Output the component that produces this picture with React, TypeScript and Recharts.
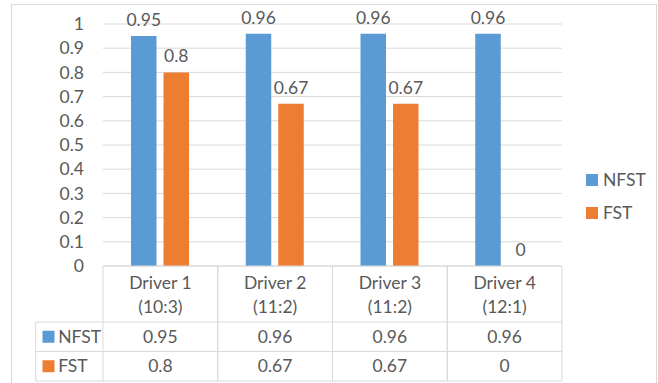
import React from 'react';
import { BarChart, Bar, XAxis, YAxis, CartesianGrid, Legend, LabelList } from 'recharts';

// Categories and their ratio sub-labels
const drivers = ['Driver 1', 'Driver 2', 'Driver 3', 'Driver 4'];
const ratios = ['(10:3)', '(11:2)', '(11:2)', '(12:1)'];

// Series values
const nfstValues = [0.95, 0.96, 0.96, 0.96];
const fstValues = [0.8, 0.67, 0.67, 0];

// Value axis ticks
const yTicks = [0, 0.1, 0.2, 0.3, 0.4, 0.5, 0.6, 0.7, 0.8, 0.9, 1];

const SERIES = [
  { key: 'NFST', color: '#5B9BD5', values: nfstValues },
  { key: 'FST', color: '#ED7D31', values: fstValues },
];

const data = drivers.map((name, i) => ({
  name,
  ratio: ratios[i],
  NFST: nfstValues[i],
  FST: fstValues[i],
}));

const FONT = 'Lato, "Open Sans", sans-serif';
const FONT_SIZE = 17.5;
const TEXT = '#595959';
const LINE = '#D9D9D9';

// Data table geometry under the category axis
const HEADER_H = 56;
const ROW_H = 29.5;
const KEY_W = 67.3;

const txt = {
  fontFamily: FONT,
  fontSize: FONT_SIZE,
  fill: TEXT,
} as const;

function TableTick(props: any) {
  const { x, y, payload, index } = props;
  const half = payload && typeof payload.offset === 'number' && payload.offset > 0 ? payload.offset : 57.375;
  const left = x - half;
  const right = x + half;
  const rowTop = y + HEADER_H;
  const bottom = rowTop + ROW_H * SERIES.length;
  const i = typeof index === 'number' ? index : payload.index;

  return (
    <g>
      <line x1={left} x2={left} y1={y} y2={bottom} stroke={LINE} />
      <line x1={right} x2={right} y1={y} y2={bottom} stroke={LINE} />
      {SERIES.map((_, j) => (
        <line key={`h${j}`} x1={left} x2={right} y1={rowTop + ROW_H * j} y2={rowTop + ROW_H * j} stroke={LINE} />
      ))}
      <line x1={left} x2={right} y1={bottom} y2={bottom} stroke={LINE} />
      <text {...txt} x={x} y={y + 17.3} dy="0.35em" textAnchor="middle">{drivers[i]}</text>
      <text {...txt} x={x} y={y + 41.3} dy="0.35em" textAnchor="middle">{ratios[i]}</text>
      {SERIES.map((s, j) => (
        <text key={s.key} {...txt} x={x} y={rowTop + ROW_H * j + ROW_H / 2} dy="0.35em" textAnchor="middle">
          {String(s.values[i])}
        </text>
      ))}
      {i === 0 && (
        <g>
          <line x1={left - KEY_W} x2={left - KEY_W} y1={rowTop} y2={bottom} stroke={LINE} />
          {SERIES.map((s, j) => (
            <g key={s.key}>
              <line x1={left - KEY_W} x2={left} y1={rowTop + ROW_H * j} y2={rowTop + ROW_H * j} stroke={LINE} />
              <rect x={left - KEY_W + 6.8} y={rowTop + ROW_H * j + ROW_H / 2 - 6} width={12} height={12} fill={s.color} />
              <text {...txt} x={left - KEY_W + 22.5} y={rowTop + ROW_H * j + ROW_H / 2} dy="0.35em" textAnchor="start">
                {s.key}
              </text>
            </g>
          ))}
          <line x1={left - KEY_W} x2={left} y1={bottom} y2={bottom} stroke={LINE} />
        </g>
      )}
    </g>
  );
}

function LegendContent() {
  return (
    <div>
      {SERIES.map((s) => (
        <div key={s.key} style={{ height: 33, display: 'flex', alignItems: 'center' }}>
          <span style={{ width: 12, height: 12, background: s.color, display: 'inline-block', marginRight: 5 }} />
          <span style={{ fontFamily: FONT, fontSize: FONT_SIZE, color: TEXT, lineHeight: '20px' }}>{s.key}</span>
        </div>
      ))}
    </div>
  );
}

export default function App() {
  return (
    <div style={{ position: 'absolute', left: 0, top: 0, width: 658, height: 383, overflow: 'hidden', background: '#fff' }}>
      <div
        style={{
          position: 'absolute',
          left: 11,
          top: 4,
          width: 646,
          height: 420,
          border: `1px solid ${LINE}`,
          boxSizing: 'border-box',
          pointerEvents: 'none',
        }}
      />
      <BarChart
        width={658}
        height={383}
        data={data}
        margin={{ top: 24, right: 96, bottom: 0, left: 13 }}
        barGap={7}
        style={{ position: 'absolute', left: 0, top: 0 }}
      >
        <CartesianGrid vertical={false} stroke={LINE} />
        <XAxis
          dataKey="name"
          height={117}
          axisLine={{ stroke: LINE }}
          tickLine={false}
          tickSize={0}
          tickMargin={0}
          interval={0}
          tick={<TableTick />}
        />
        <YAxis
          width={90}
          domain={[0, 1]}
          ticks={yTicks}
          interval={0}
          axisLine={false}
          tickLine={false}
          tickSize={0}
          tickMargin={19}
          tickFormatter={(v: number) => String(v)}
          tick={{ ...txt }}
        />
        <Legend
          layout="horizontal"
          verticalAlign="middle"
          align="center"
          content={<LegendContent />}
          wrapperStyle={{ position: 'absolute', left: 586, top: 163.5, width: 70, height: 66 }}
        />
        {SERIES.map((s) => (
          <Bar
            key={s.key}
            dataKey={s.key}
            name={s.key}
            fill={s.color}
            barSize={25.5}
            minPointSize={0.01}
            isAnimationActive={false}
          >
            <LabelList dataKey={s.key} position="top" offset={10} {...txt} />
          </Bar>
        ))}
      </BarChart>
    </div>
  );
}
